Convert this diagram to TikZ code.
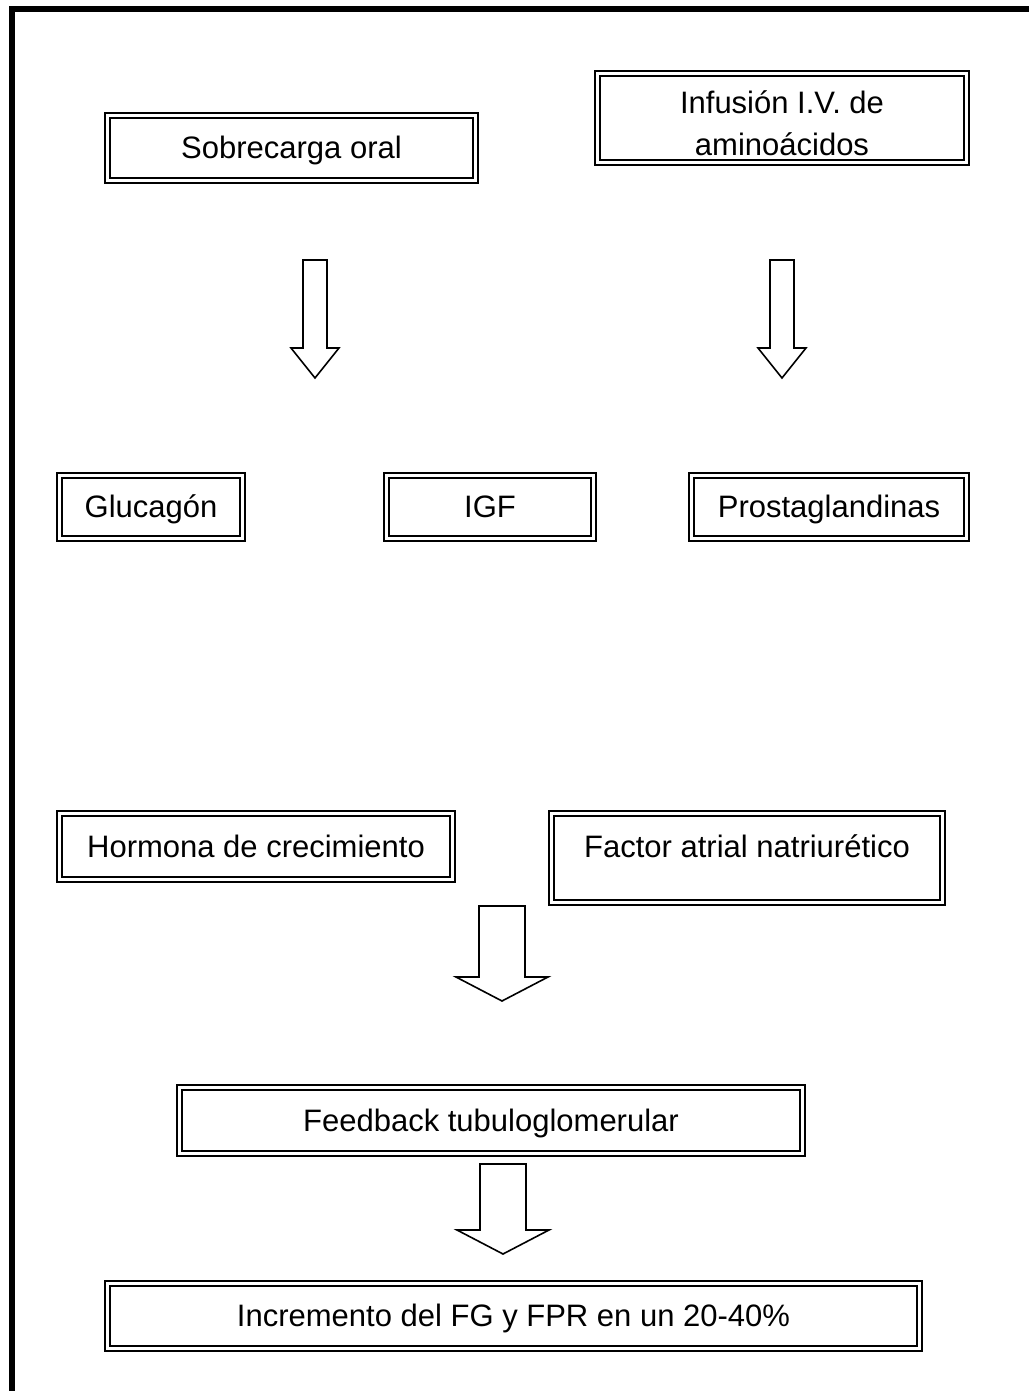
\documentclass[tikz,border=0pt]{standalone}
\usepackage{fontspec}
\setmainfont{Liberation Sans}

\begin{document}
\begin{tikzpicture}[x=0.5pt, y=-0.5pt,
        caja/.style={rectangle, draw=black, double=white, line width=1pt, double distance=1.4pt,
                     inner sep=0pt, align=center, text height=14pt, text depth=3.5pt,
                     font=\fontsize{15.5}{21}\selectfont},
        flecha/.style={draw=black, line width=0.8pt, fill=white, line join=miter}]
    \useasboundingbox (0,0) rectangle (1029,1391);

    % marco
    \draw[line width=3pt] (12,1391) -- (12,9) -- (1029,9);

    \node (sobre) [caja, minimum width=184.1pt, minimum height=32.6pt] at (291.5,148) {Sobrecarga oral};
    \node (infus) [caja, text height=, text depth=, minimum width=184.6pt, minimum height=44.6pt] at (782,118) {\rule{0pt}{17pt}Infusión I.V. de\\aminoácidos};

    \node (gluca) [caja, minimum width=91.6pt, minimum height=31.6pt] at (151,507) {Glucagón};
    \node (igf) [caja, minimum width=103.6pt, minimum height=31.6pt] at (490,507) {IGF};
    \node (prosta) [caja, minimum width=137.6pt, minimum height=31.6pt] at (829,507) {Prostaglandinas};

    \node (hormona) [caja, minimum width=196.6pt, minimum height=33.1pt] at (256,846.5) {Hormona de crecimiento};
    \node (factor) [caja, minimum width=195.6pt, minimum height=44.6pt, text depth=15pt] at (747,858) {Factor atrial natriurético};

    \node (feedback) [caja, minimum width=311.6pt, minimum height=33.1pt] at (491,1120.5) {Feedback tubuloglomerular};
    \node (incremento) [caja, minimum width=406.1pt, minimum height=32.6pt] at (513.5,1316) {Incremento del FG y FPR en un 20-40\%};

    % flechas
    \draw[flecha] (303,260) -- (327,260) -- (327,348) -- (339,348) -- (315,378) -- (291,348) -- (303,348) -- cycle;
    \draw[flecha] (770,260) -- (794,260) -- (794,348) -- (806,348) -- (782,378) -- (758,348) -- (770,348) -- cycle;
    \draw[flecha] (479,906) -- (525,906) -- (525,977) -- (548,977) -- (502,1001) -- (456,977) -- (479,977) -- cycle;
    \draw[flecha] (480,1164) -- (526,1164) -- (526,1230) -- (549,1230) -- (503,1254) -- (457,1230) -- (480,1230) -- cycle;
\end{tikzpicture}
\end{document}
